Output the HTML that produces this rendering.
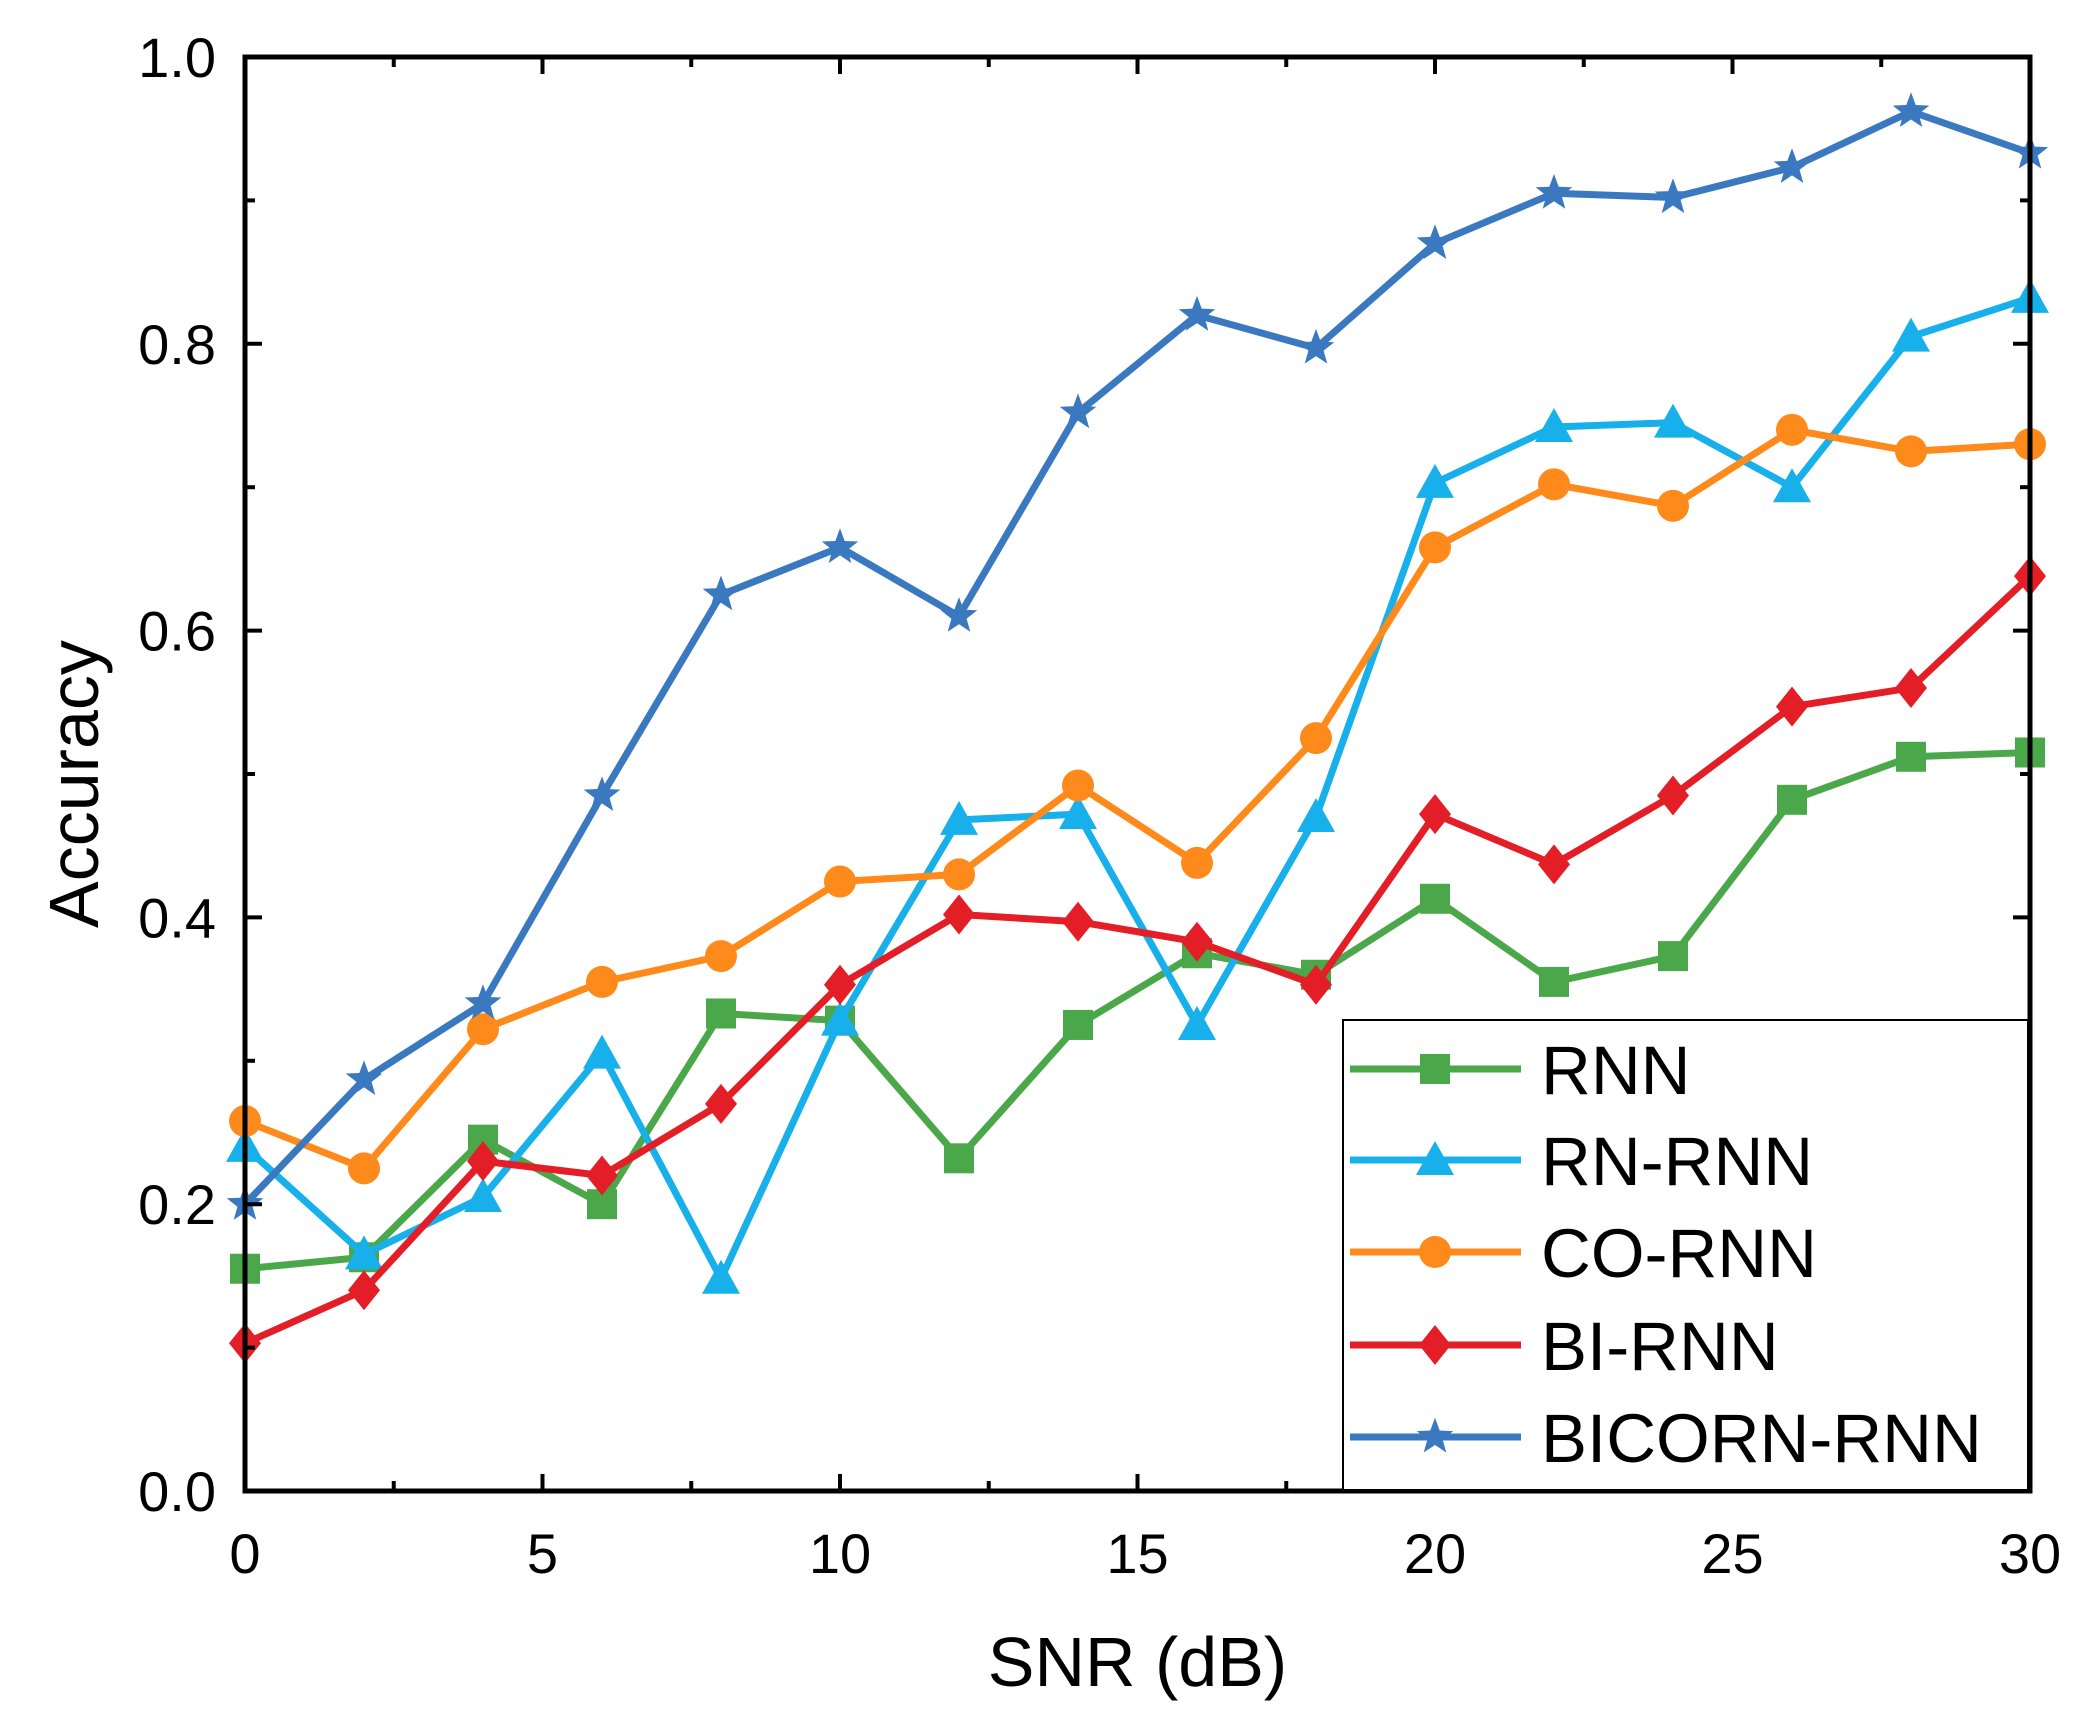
<!DOCTYPE html>
<html><head><meta charset="utf-8"><style>
html,body{margin:0;padding:0;background:#fff;}
svg{display:block;font-family:"Liberation Sans",Arial,sans-serif;}
</style></head><body>
<svg id="chart" width="2096" height="1728" viewBox="0 0 2096 1728" xmlns="http://www.w3.org/2000/svg">
<rect width="2096" height="1728" fill="#fff"/>
<g id="marks"></g>
<g id="axes"></g>
<g id="legend"></g>
</svg>
<script>
const snr = [0,2,4,6,8,10,12,14,16,18,20,22,24,26,28,30];
const rnn = [0.155,0.163,0.245,0.20,0.333,0.328,0.232,0.325,0.375,0.36,0.413,0.355,0.373,0.482,0.512,0.515];
const rnRnn = [0.24,0.165,0.205,0.305,0.148,0.328,0.468,0.472,0.325,0.47,0.703,0.742,0.745,0.70,0.805,0.832];
const coRnn = [0.258,0.225,0.322,0.355,0.373,0.425,0.43,0.492,0.438,0.525,0.658,0.702,0.687,0.74,0.725,0.73];
const biRnn = [0.103,0.14,0.23,0.22,0.27,0.353,0.402,0.397,0.383,0.353,0.472,0.437,0.485,0.547,0.56,0.638];
const bicornRnn = [0.2,0.287,0.34,0.485,0.625,0.658,0.61,0.752,0.82,0.797,0.87,0.905,0.902,0.923,0.962,0.933];
const seriesNames = ["RNN","RN-RNN","CO-RNN","BI-RNN","BICORN-RNN"];
const xTickLabels = ["0","5","10","15","20","25","30"];
const yTickLabels = ["0.0","0.2","0.4","0.6","0.8","1.0"];

const NS="http://www.w3.org/2000/svg";
const L=245,R=2030,T=57,B=1491;
const xs=v=>L+(v-0)/30*(R-L);
const ys=v=>B-(v-0)/1*(B-T);
function mk(tag,attrs,parent){const e=document.createElementNS(NS,tag);for(const k in attrs)e.setAttribute(k,attrs[k]);parent.appendChild(e);return e;}
const marks=document.getElementById('marks'),axes=document.getElementById('axes'),legend=document.getElementById('legend');
const styles=[
 {c:"#4aa84a",m:"square",d:rnn,k:"rnn"},
 {c:"#18b0ea",m:"triangle",d:rnRnn,k:"rn-rnn"},
 {c:"#ff8a1c",m:"circle",d:coRnn,k:"co-rnn"},
 {c:"#e41e26",m:"diamond",d:biRnn,k:"bi-rnn"},
 {c:"#3a79c0",m:"star",d:bicornRnn,k:"bicorn-rnn"}];
function marker(type,x,y,c,parent,s){
 s=s||16;let e;
 if(type==="square")e=mk('rect',{x:x-s+1,y:y-s+1,width:2*s-2,height:2*s-2,fill:c},parent);
 else if(type==="circle")e=mk('circle',{cx:x,cy:y,r:s,fill:c},parent);
 else if(type==="triangle")e=mk('polygon',{points:`${x},${y-s-3} ${x+s+3},${y+s-1} ${x-s-3},${y+s-1}`,fill:c},parent);
 else if(type==="diamond")e=mk('polygon',{points:`${x},${y-s-4} ${x+s},${y} ${x},${y+s+4} ${x-s},${y}`,fill:c},parent);
 else {let p=[];for(let i=0;i<10;i++){const r=i%2?s*0.5:s*1.2;const a=-Math.PI/2+i*Math.PI/5;p.push((x+r*Math.cos(a)).toFixed(1)+","+(y+r*Math.sin(a)).toFixed(1));}
  e=mk('polygon',{points:p.join(" "),fill:c},parent);}
 return e;
}
const clip=mk('clipPath',{id:'pc'},document.getElementById('chart'));
mk('rect',{x:L-22,y:T-22,width:R-L+44,height:B-T+44},clip);
marks.setAttribute('clip-path','url(#pc)');
styles.forEach((st,si)=>{
 const g=mk('g',{},marks);
 
 
 const pl=mk('polyline',{points:snr.map((x,i)=>xs(x)+","+ys(st.d[i])).join(" "),fill:"none",stroke:st.c,"stroke-width":7,"stroke-linejoin":"round"},g);
 
 
 snr.forEach((x,i)=>{const m=marker(st.m,xs(x),ys(st.d[i]),st.c,g);
  
  });
});
const fr=mk('rect',{x:L,y:T,width:R-L,height:B-T,fill:"none",stroke:"#000","stroke-width":5},axes);


for(let v=0;v<=30.01;v+=2.5){const maj=Math.abs(v%5)<0.01;const len=maj?17:10;const x=xs(v);
 mk('line',{x1:x,y1:B,x2:x,y2:B-len,stroke:"#000","stroke-width":4},axes);
 mk('line',{x1:x,y1:T,x2:x,y2:T+len,stroke:"#000","stroke-width":4},axes);}
for(let i=0;i<=10;i++){const v=i/10;const maj=i%2===0;const len=maj?17:10;const y=ys(v);
 mk('line',{x1:L,y1:y,x2:L+len,y2:y,stroke:"#000","stroke-width":4},axes);
 mk('line',{x1:R,y1:y,x2:R-len,y2:y,stroke:"#000","stroke-width":4},axes);}
xTickLabels.forEach((t,i)=>{const e=mk('text',{x:xs(i*5),y:1573,"text-anchor":"middle","font-size":56,fill:"#000"},axes);e.textContent=t;
 
 });
yTickLabels.forEach((t,i)=>{const e=mk('text',{x:216,y:ys(i*0.2)+20,"text-anchor":"end","font-size":56,fill:"#000"},axes);e.textContent=t;
 
 });
const xt=mk('text',{x:(L+R)/2,y:1686,"text-anchor":"middle","font-size":70,fill:"#000"},axes);xt.textContent="SNR (dB)";


const yt=mk('text',{x:0,y:0,"text-anchor":"middle","font-size":70,fill:"#000",transform:`translate(98,${(T+B)/2+10}) rotate(-90)`},axes);yt.textContent="Accuracy";


const lb=mk('rect',{x:1343,y:1020,width:685,height:470,fill:"#fff",stroke:"#000","stroke-width":2},legend);


const ly=[1069,1160,1252,1345,1437];
styles.forEach((st,i)=>{
 const g=mk('g',{},legend);
 
 
 mk('line',{x1:1350,y1:ly[i],x2:1521,y2:ly[i],stroke:st.c,"stroke-width":7},g);
 marker(st.m,1435,ly[i],st.c,g);
 const t=mk('text',{x:1541,y:ly[i]+25,"font-size":69,fill:"#000"},g);t.textContent=seriesNames[i];
});
</script>
</body></html>
